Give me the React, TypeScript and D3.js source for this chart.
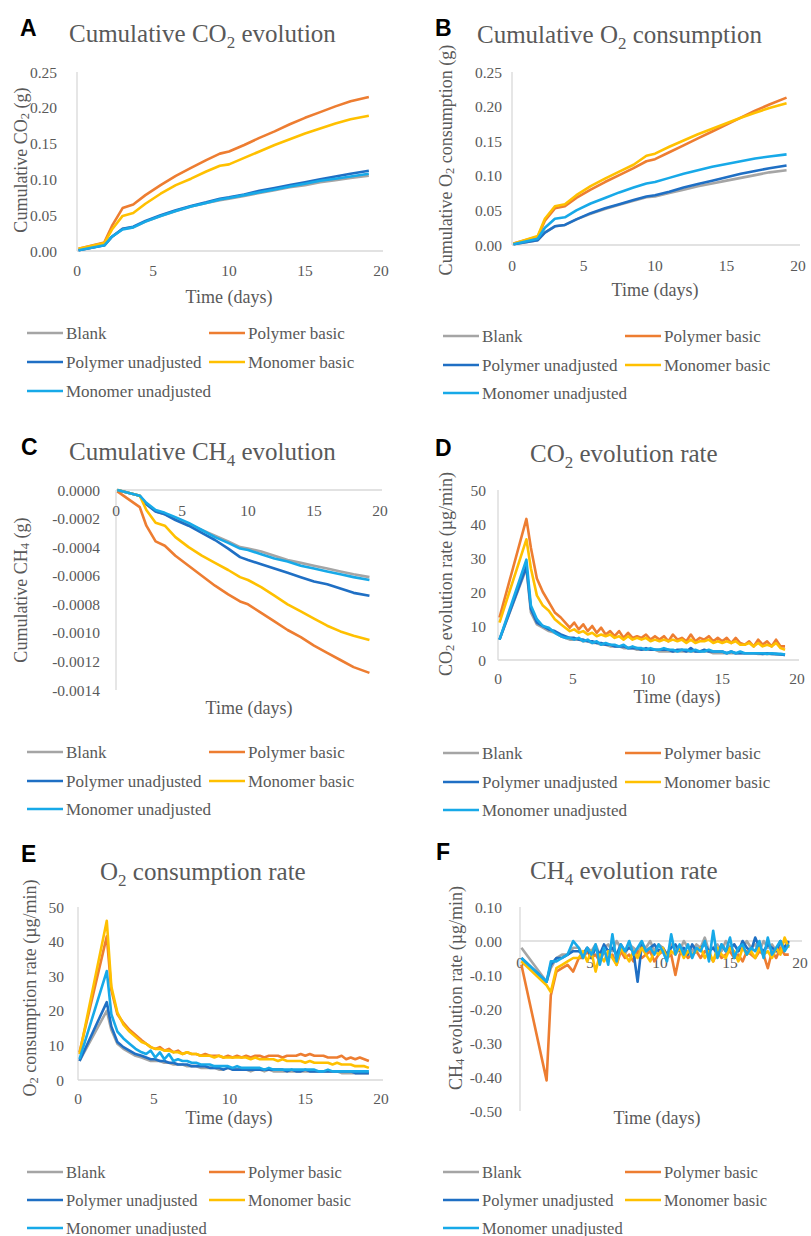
import * as d3 from "d3";
import React from "react";

const FONT = "'Liberation Serif', 'Times New Roman', serif";
const TXT = "#595959";
const AXIS = "#D9D9D9";

const SERIES = ["Blank", "Polymer basic", "Polymer unadjusted", "Monomer basic", "Monomer unadjusted"];
const COLORS = ["#A5A5A5", "#ED7D31", "#1F6FC4", "#FFC000", "#17A9E8"];
const X_TICKS = [0, 5, 10, 15, 20];

// sampling times (days)
const tCum = [0.1, 1.8, 2.3, 3.0, 3.7, 4.5, 5.5, 6.5, 7.5, 8.5, 9.4, 10.0, 11, 12, 13, 14, 15, 16, 17, 18, 19.2];
const tRate = [0.1, 1.9, 2.2, 2.6, 3.0, 3.4, 3.8, 4.2, 4.5, 4.8, 5.1, 5.4, 5.7, 6.0, 6.3, 6.6, 6.9, 7.2, 7.5, 7.8,
  8.1, 8.4, 8.7, 9.0, 9.3, 9.6, 9.9, 10.2, 10.5, 10.8, 11.1, 11.4, 11.7, 12.0, 12.3, 12.6, 12.9, 13.2, 13.5, 13.8,
  14.1, 14.4, 14.7, 15.0, 15.3, 15.6, 15.9, 16.2, 16.5, 16.8, 17.1, 17.4, 17.7, 18.0, 18.3, 18.6, 18.9, 19.2];

// A: cumulative CO2 (g)
const aBlank = [0.001, 0.008, 0.020, 0.031, 0.033, 0.041, 0.049, 0.056, 0.062, 0.067, 0.071, 0.073, 0.077, 0.081, 0.085, 0.089, 0.092, 0.096, 0.099, 0.102, 0.105];
const aPolyBasic = [0.003, 0.012, 0.035, 0.060, 0.065, 0.078, 0.092, 0.105, 0.116, 0.127, 0.136, 0.139, 0.148, 0.158, 0.167, 0.177, 0.186, 0.194, 0.202, 0.209, 0.215];
const aPolyUnadj = [0.001, 0.008, 0.020, 0.031, 0.034, 0.042, 0.050, 0.057, 0.063, 0.068, 0.073, 0.075, 0.079, 0.084, 0.088, 0.092, 0.096, 0.100, 0.104, 0.108, 0.112];
const aMonoBasic = [0.003, 0.011, 0.030, 0.049, 0.053, 0.066, 0.080, 0.092, 0.101, 0.111, 0.119, 0.121, 0.130, 0.139, 0.148, 0.156, 0.164, 0.171, 0.178, 0.184, 0.189];
const aMonoUnadj = [0.001, 0.008, 0.020, 0.030, 0.033, 0.041, 0.049, 0.056, 0.062, 0.067, 0.072, 0.074, 0.078, 0.082, 0.086, 0.090, 0.094, 0.098, 0.101, 0.104, 0.108];

// B: cumulative O2 consumption (g)
const bBlank = [0.001, 0.007, 0.018, 0.027, 0.029, 0.037, 0.045, 0.052, 0.058, 0.064, 0.069, 0.070, 0.075, 0.080, 0.085, 0.089, 0.093, 0.097, 0.101, 0.105, 0.108];
const bPolyBasic = [0.002, 0.012, 0.035, 0.053, 0.056, 0.068, 0.080, 0.091, 0.101, 0.111, 0.121, 0.124, 0.134, 0.144, 0.154, 0.164, 0.174, 0.184, 0.194, 0.203, 0.213];
const bPolyUnadj = [0.001, 0.007, 0.018, 0.027, 0.029, 0.037, 0.046, 0.053, 0.059, 0.065, 0.070, 0.072, 0.077, 0.083, 0.088, 0.093, 0.098, 0.103, 0.107, 0.111, 0.115];
const bMonoBasic = [0.002, 0.013, 0.038, 0.056, 0.059, 0.072, 0.085, 0.096, 0.106, 0.116, 0.129, 0.132, 0.142, 0.151, 0.160, 0.168, 0.176, 0.184, 0.191, 0.198, 0.205];
const bMonoUnadj = [0.001, 0.009, 0.025, 0.038, 0.040, 0.050, 0.060, 0.068, 0.076, 0.083, 0.089, 0.091, 0.097, 0.103, 0.108, 0.113, 0.117, 0.121, 0.125, 0.128, 0.131];

// C: cumulative CH4 (g)
const cBlank = [0, -0.00004, -0.00010, -0.00015, -0.00017, -0.00020, -0.00024, -0.00028, -0.00032, -0.00036, -0.00040, -0.00041, -0.00043, -0.00046, -0.00049, -0.00051, -0.00053, -0.00055, -0.00057, -0.00059, -0.00061];
const cPolyBasic = [-0.00001, -0.00012, -0.00025, -0.00036, -0.00039, -0.00046, -0.00053, -0.00060, -0.00067, -0.00073, -0.00078, -0.00080, -0.00086, -0.00092, -0.00098, -0.00103, -0.00109, -0.00114, -0.00119, -0.00124, -0.00128];
const cPolyUnadj = [0, -0.00004, -0.00010, -0.00015, -0.00017, -0.00021, -0.00025, -0.00030, -0.00035, -0.00041, -0.00047, -0.00049, -0.00052, -0.00055, -0.00058, -0.00061, -0.00064, -0.00066, -0.00069, -0.00072, -0.00074];
const cMonoBasic = [0, -0.00004, -0.00014, -0.00023, -0.00025, -0.00033, -0.00040, -0.00046, -0.00051, -0.00056, -0.00061, -0.00063, -0.00068, -0.00074, -0.00080, -0.00085, -0.00090, -0.00095, -0.00099, -0.00102, -0.00105];
const cMonoUnadj = [0, -0.00004, -0.00009, -0.00014, -0.00016, -0.00019, -0.00023, -0.00028, -0.00033, -0.00037, -0.00041, -0.00042, -0.00045, -0.00048, -0.00050, -0.00053, -0.00055, -0.00057, -0.00059, -0.00061, -0.00063];

// D: CO2 evolution rate (ug/min)
const dBlank = [6, 27, 14, 10.5, 9.5, 8.5, 8, 7, 6.5, 6,
  6, 6, 5.5, 5.5, 5, 5, 4.5, 4.5, 4, 4,
  4, 3.5, 3.5, 3.5, 3, 3, 3, 3, 3, 2.5,
  2.5, 2.5, 2.5, 2.5, 2.5, 2.5, 2.5, 2.5, 2.5, 2.5,
  2.5, 2, 2, 2, 2, 2, 2, 2, 2, 2,
  2, 1.8, 1.8, 1.8, 1.8, 1.6, 1.6, 1.5];
const dPolyBasic = [12.5, 41.5, 33, 24, 20, 17, 14, 12.5, 11, 9.5,
  11, 9, 10.5, 8.5, 10, 8, 9.5, 7.5, 8.5, 7,
  8.5, 6.5, 8, 6.5, 7, 6.5, 7.5, 6, 7, 6,
  7, 5.5, 7.5, 6, 6.5, 5.5, 7.5, 5.5, 6.5, 6,
  7, 5.5, 6.5, 5.5, 6.5, 5, 6.5, 5, 4.5, 5.5,
  4, 6, 4.5, 5.5, 4, 6, 4, 4];
const dPolyUnadj = [6, 27.5, 15, 11, 10, 9, 8.5, 7.5, 7, 6.5,
  6.5, 6, 6, 5.5, 5.5, 5, 5, 4.5, 4.5, 4,
  4, 4, 3.5, 3.5, 3.5, 3, 3.5, 3, 3, 3,
  3, 3, 2.5, 3, 3, 2.5, 3.5, 2.5, 2.5, 3,
  2.5, 2.5, 2.5, 2.5, 2, 2.5, 2, 2, 2, 2,
  2, 2, 1.8, 2, 1.8, 1.8, 1.6, 1.5];
const dMonoBasic = [11, 35.5, 27, 19, 16, 14.5, 12, 10.5, 9.5, 8.5,
  9, 8, 8.5, 7.5, 8, 7, 7.5, 7, 7.5, 6.5,
  7, 6, 7, 6, 6.5, 6, 6.5, 5.5, 6, 5.5,
  6, 5.5, 6, 5.5, 6, 5, 6, 5, 5.5, 5.5,
  6, 5, 5.5, 5, 5.5, 5, 5.5, 4.5, 4.5, 5,
  4, 5, 4, 4.5, 4, 5, 3.5, 3];
const dMonoUnadj = [6, 29.5, 16, 12, 10, 9.5, 8, 7, 6.5, 6.5,
  6, 6.5, 5.5, 6, 5, 5.5, 4.5, 5, 4.5, 4.5,
  4, 4.5, 3.5, 4, 3.5, 3.5, 3, 3.5, 3, 3,
  3.5, 3, 3, 2.5, 3, 3, 2.5, 3, 2.5, 2.5,
  3, 2.5, 2.5, 2.5, 2, 2.5, 2, 2.5, 2, 2,
  2, 2, 2, 1.8, 2, 1.8, 1.8, 1.6];

// E: O2 consumption rate (ug/min)
const eBlank = [5.5, 20, 14.5, 10.5, 9, 8, 7, 6.5, 6, 5.5,
  5.5, 5.5, 5, 5, 4.5, 4.5, 4.5, 4, 4, 4,
  3.5, 3.5, 3.5, 3.5, 3, 3, 3.5, 3, 3, 3,
  3, 2.5, 3, 3, 2.5, 3, 2.5, 2.5, 2.5, 2.5,
  2.5, 2.5, 2.5, 2.5, 2.5, 2.5, 2.5, 2.5, 2.5, 2.5,
  2.5, 2, 2, 2, 2, 2, 2, 2];
const ePolyBasic = [8, 41.5, 26, 19, 16.5, 14.5, 13, 11.5, 10.5, 9.5,
  9, 9.5, 8.5, 9, 8, 8.5, 7.5, 8, 7.5, 7.5,
  7, 7.5, 7, 7, 7, 6.5, 7, 6.5, 7, 6.5,
  7, 6.5, 7, 7, 6.5, 7, 7, 7, 6.5, 7,
  7, 7, 7.5, 7, 7.5, 7, 7, 7, 6.5, 6.5,
  6.5, 7, 6, 6.5, 6, 6.5, 6, 5.5];
const ePolyUnadj = [5.5, 22.5, 15.5, 11, 9.5, 8.5, 7.5, 7, 6.5, 6,
  6, 5.5, 5.5, 5, 5, 4.5, 4.5, 4.5, 4, 4,
  4, 4, 3.5, 3.5, 3.5, 3, 3.5, 3, 3, 3,
  3, 3, 3, 3, 3, 3, 3, 3, 3, 2.5,
  3, 2.5, 2.5, 3, 2.5, 2.5, 2.5, 2.5, 2.5, 2.5,
  2.5, 2.5, 2.5, 2.5, 2, 2, 2, 2];
const eMonoBasic = [7.5, 46, 27, 19.5, 16, 14, 12.5, 11, 10.5, 9.5,
  9, 9, 8.5, 8.5, 8, 8, 7.5, 8, 7.5, 7.5,
  7, 7, 7, 6.5, 7, 6.5, 6.5, 6.5, 6.5, 6.5,
  6.5, 6, 6.5, 6, 6, 6, 6, 5.5, 6, 5.5,
  5.5, 5.5, 5.5, 5, 5.5, 5, 5, 5, 5, 4.5,
  5, 4.5, 4.5, 4.5, 4, 4, 4, 3.5];
const eMonoUnadj = [6, 31.5, 19, 14, 12, 10.5, 9, 8, 7.5, 8.5,
  6.5, 8, 6, 7.5, 5.5, 6, 5.5, 5.5, 5, 5,
  4.5, 4.5, 4.5, 4, 4, 4, 4, 3.5, 4, 3.5,
  3.5, 3.5, 3.5, 3.5, 3, 3.5, 3, 3, 3, 3,
  3, 3, 3, 3, 3, 3, 2.5, 2.5, 3, 2.5,
  2.5, 2.5, 2.5, 2.5, 2.5, 2.5, 2.5, 2.5];

// F: CH4 evolution rate (ug/min)
const fBlank = [-0.02, -0.12, -0.08, -0.05, -0.04, -0.04, -0.02, -0.02, -0.04, -0.02,
  -0.03, -0.01, -0.04, -0.02, -0.01, -0.03, 0.00, -0.02, -0.04, -0.01,
  -0.02, -0.03, -0.01, -0.02, 0.00, -0.03, -0.01, -0.02, -0.04, -0.01,
  -0.02, -0.03, 0.00, -0.02, -0.03, -0.01, -0.02, 0.01, -0.03, -0.02,
  -0.01, -0.03, 0.00, -0.02, -0.01, -0.03, -0.02, 0.00, -0.02, -0.01,
  -0.03, 0.00, -0.02, -0.01, -0.03, -0.01, 0.00, -0.01];
const fPolyBasic = [-0.07, -0.41, -0.16, -0.09, -0.08, -0.07, -0.09, -0.05, -0.05, -0.03,
  -0.05, -0.04, -0.06, -0.03, -0.05, -0.04, -0.07, -0.03, -0.05, -0.04,
  -0.06, -0.03, -0.05, -0.04, -0.03, -0.06, -0.04, -0.03, -0.05, -0.04,
  -0.10, -0.04, -0.03, -0.05, -0.04, -0.03, -0.05, -0.03, -0.04, -0.06,
  -0.03, -0.05, -0.04, -0.03, -0.05, -0.04, -0.06, -0.03, -0.04, -0.05,
  -0.03, -0.04, -0.08, -0.03, -0.05, -0.02, -0.04, -0.04];
const fPolyUnadj = [-0.05, -0.12, -0.07, -0.05, -0.05, -0.04, -0.03, -0.03, -0.04, -0.02,
  -0.05, -0.02, -0.04, -0.01, -0.03, -0.02, -0.04, -0.01, -0.03, -0.02,
  -0.03, -0.12, -0.01, -0.03, -0.02, -0.01, -0.03, -0.02, -0.04, -0.02,
  -0.01, -0.03, -0.02, -0.04, -0.01, -0.03, -0.02, -0.01, -0.03, -0.02,
  -0.04, -0.01, -0.03, -0.02, -0.01, -0.03, 0.00, -0.02, -0.03, 0.01,
  -0.02, -0.03, -0.01, -0.02, -0.03, 0.00, -0.02, 0.00];
const fMonoBasic = [-0.06, -0.13, -0.15, -0.08, -0.07, -0.06, -0.05, -0.05, -0.03, -0.06,
  -0.03, -0.09, -0.04, -0.06, -0.03, -0.05, -0.07, -0.02, -0.04, -0.06,
  -0.03, -0.05, -0.02, -0.04, -0.06, -0.03, -0.04, -0.02, -0.05, -0.03,
  -0.04, -0.02, -0.05, -0.03, -0.04, -0.03, -0.02, -0.05, -0.03, -0.06,
  -0.02, -0.04, -0.05, -0.02, -0.03, -0.06, -0.02, -0.04, -0.03, -0.05,
  -0.02, -0.04, -0.03, -0.05, -0.02, -0.04, 0.01, -0.02];
const fMonoUnadj = [-0.05, -0.12, -0.06, -0.06, -0.05, -0.04, 0.00, -0.02, -0.05, -0.02,
  -0.04, -0.01, -0.07, -0.02, -0.07, 0.02, -0.06, -0.01, -0.03, 0.00,
  -0.04, -0.02, 0.00, -0.03, -0.02, -0.04, -0.01, -0.03, -0.06, 0.02,
  -0.04, -0.01, -0.04, -0.01, -0.05, -0.02, -0.03, 0.00, -0.06, 0.03,
  -0.05, -0.01, -0.03, 0.01, -0.05, -0.02, -0.01, -0.04, -0.02, -0.03,
  0.00, -0.05, 0.01, -0.04, -0.02, 0.00, -0.03, -0.01];

type Txt = [string, string, string];

function Sub({ parts, size, subSize, shift }: { parts: Txt; size: number; subSize: number; shift: number }) {
  return (
    <>
      <tspan fontSize={size}>{parts[0]}</tspan>
      <tspan fontSize={subSize} dy={shift}>{parts[1]}</tspan>
      <tspan fontSize={size} dy={-shift}>{parts[2]}</tspan>
    </>
  );
}

function Panel(p: any) {
  const x = d3.scaleLinear([0, 20], [p.x0, p.x1]);
  const y = d3.scaleLinear([p.yMin, p.yMax], [p.yBottom, p.yTop]);
  const yTicks = d3.range(0, Math.round((p.yMax - p.yMin) / p.yStep) + 1).map(i => p.yMin + i * p.yStep);
  const line = d3.line<number>((_, i) => x(p.t[i]), d => y(d));
  const zeroY = y(0);
  const lx = [p.leg.c1, p.leg.c2];
  return (
    <g fontFamily={FONT} fill={TXT}>
      <text x={p.lx} y={p.ly} fontFamily="'Liberation Sans', Arial, sans-serif" fontWeight="bold" fontSize={23} fill="#000">{p.letter}</text>
      <text x={p.tx} y={p.ty}><Sub parts={p.title} size={25} subSize={17} shift={6} /></text>
      <line x1={p.x0} x2={p.x0} y1={p.yTop} y2={p.yBottom} stroke={AXIS} strokeWidth={1.3} />
      <line x1={p.x0} x2={p.x1 + 2} y1={zeroY} y2={zeroY} stroke={AXIS} strokeWidth={1.3} />
      {yTicks.map((v, i) => (
        <text key={i} x={p.yLabelRight} y={y(v)} textAnchor="end" dominantBaseline="central" fontSize={15.5}>{p.yFmt(v)}</text>
      ))}
      {X_TICKS.map(v => (
        <text key={v} x={x(v)} y={zeroY + p.xLabelDy} textAnchor="middle" dominantBaseline="central" fontSize={15.5}>{v}</text>
      ))}
      <text x={p.timeX} y={p.timeY} textAnchor="middle" dominantBaseline="central" fontSize={18}>Time (days)</text>
      <text transform={`translate(${p.ytx},${p.yty}) rotate(-90)`} textAnchor="middle" dominantBaseline="central">
        <Sub parts={p.yTitle} size={18} subSize={12.5} shift={4} />
      </text>
      {p.series.map((s: number[], i: number) => (
        <path key={i} d={line(s) || ""} fill="none" stroke={COLORS[i]} strokeWidth={2.6} strokeLinejoin="round" />
      ))}
      {SERIES.map((name, i) => {
        const row = [0, 0, 1, 1, 2][i];
        const col = [0, 1, 0, 1, 0][i];
        const yy = p.leg.rows[row];
        const x1 = lx[col];
        return (
          <g key={name}>
            <line x1={x1} x2={x1 + 36} y1={yy} y2={yy} stroke={COLORS[i]} strokeWidth={2.6} />
            <text x={x1 + 39} y={yy} dominantBaseline="central" fontSize={p.leg.fs}>{name}</text>
          </g>
        );
      })}
    </g>
  );
}

const f2 = (v: number) => v.toFixed(2);
const f4 = (v: number) => v.toFixed(4);
const f0 = (v: number) => v.toFixed(0);

export default function App() {
  return (
    <svg width={811} height={1236} style={{ position: "absolute", left: 0, top: 0, background: "#fff" }}>
      <Panel letter="A" lx={20} ly={36} title={["Cumulative CO", "2", " evolution"]} tx={69} ty={42}
        x0={77} x1={381} yTop={72} yBottom={251} yMin={0} yMax={0.25} yStep={0.05} yFmt={f2} yLabelRight={57}
        xLabelDy={19} timeX={229} timeY={297} yTitle={["Cumulative CO", "2", " (g)"]} ytx={21} yty={160}
        leg={{ c1: 27, c2: 209, rows: [333, 362, 391], fs: 17 }}
        t={tCum} series={[aBlank, aPolyBasic, aPolyUnadj, aMonoBasic, aMonoUnadj]} />
      <Panel letter="B" lx={435} ly={36} title={["Cumulative O", "2", " consumption"]} tx={477} ty={43}
        x0={512} x1={798} yTop={72} yBottom={245} yMin={0} yMax={0.25} yStep={0.05} yFmt={f2} yLabelRight={502}
        xLabelDy={20} timeX={655} timeY={290} yTitle={["Cumulative O", "2", " consumption (g)"]} ytx={446} yty={160}
        leg={{ c1: 443, c2: 625, rows: [336, 365, 393], fs: 17 }}
        t={tCum} series={[bBlank, bPolyBasic, bPolyUnadj, bMonoBasic, bMonoUnadj]} />
      <Panel letter="C" lx={21} ly={455} title={["Cumulative CH", "4", " evolution"]} tx={69} ty={460}
        x0={116} x1={380} yTop={490} yBottom={690} yMin={-0.0014} yMax={0} yStep={0.0002} yFmt={f4} yLabelRight={100}
        xLabelDy={20} timeX={249} timeY={708} yTitle={["Cumulative CH", "4", " (g)"]} ytx={21} yty={590}
        leg={{ c1: 27, c2: 209, rows: [752, 781, 809], fs: 17 }}
        t={tCum} series={[cBlank, cPolyBasic, cPolyUnadj, cMonoBasic, cMonoUnadj]} />
      <Panel letter="D" lx={435} ly={456} title={["CO", "2", " evolution rate"]} tx={530} ty={462}
        x0={498} x1={797} yTop={490} yBottom={660} yMin={0} yMax={50} yStep={10} yFmt={f0} yLabelRight={486}
        xLabelDy={18} timeX={677} timeY={697} yTitle={["CO", "2", " evolution rate (µg/min)"]} ytx={446} yty={574}
        leg={{ c1: 443, c2: 625, rows: [753, 782, 810], fs: 17 }}
        t={tRate} series={[dBlank, dPolyBasic, dPolyUnadj, dMonoBasic, dMonoUnadj]} />
      <Panel letter="E" lx={21} ly={862} title={["O", "2", " consumption rate"]} tx={100} ty={880}
        x0={78} x1={381} yTop={907} yBottom={1080} yMin={0} yMax={50} yStep={10} yFmt={f0} yLabelRight={64}
        xLabelDy={18} timeX={229} timeY={1118} yTitle={["O", "2", " consumption rate (µg/min)"]} ytx={30} yty={988}
        leg={{ c1: 27, c2: 209, rows: [1172, 1200, 1228], fs: 16.5 }}
        t={tRate} series={[eBlank, ePolyBasic, ePolyUnadj, eMonoBasic, eMonoUnadj]} />
      <Panel letter="F" lx={436} ly={860} title={["CH", "4", " evolution rate"]} tx={530} ty={879}
        x0={520} x1={800} yTop={907} yBottom={1111} yMin={-0.5} yMax={0.1} yStep={0.1} yFmt={f2} yLabelRight={502}
        xLabelDy={21} timeX={657} timeY={1118} yTitle={["CH", "4", " evolution rate (µg/min)"]} ytx={456} yty={988}
        leg={{ c1: 443, c2: 625, rows: [1172, 1200, 1228], fs: 16.5 }}
        t={tRate} series={[fBlank, fPolyBasic, fPolyUnadj, fMonoBasic, fMonoUnadj]} />
    </svg>
  );
}
